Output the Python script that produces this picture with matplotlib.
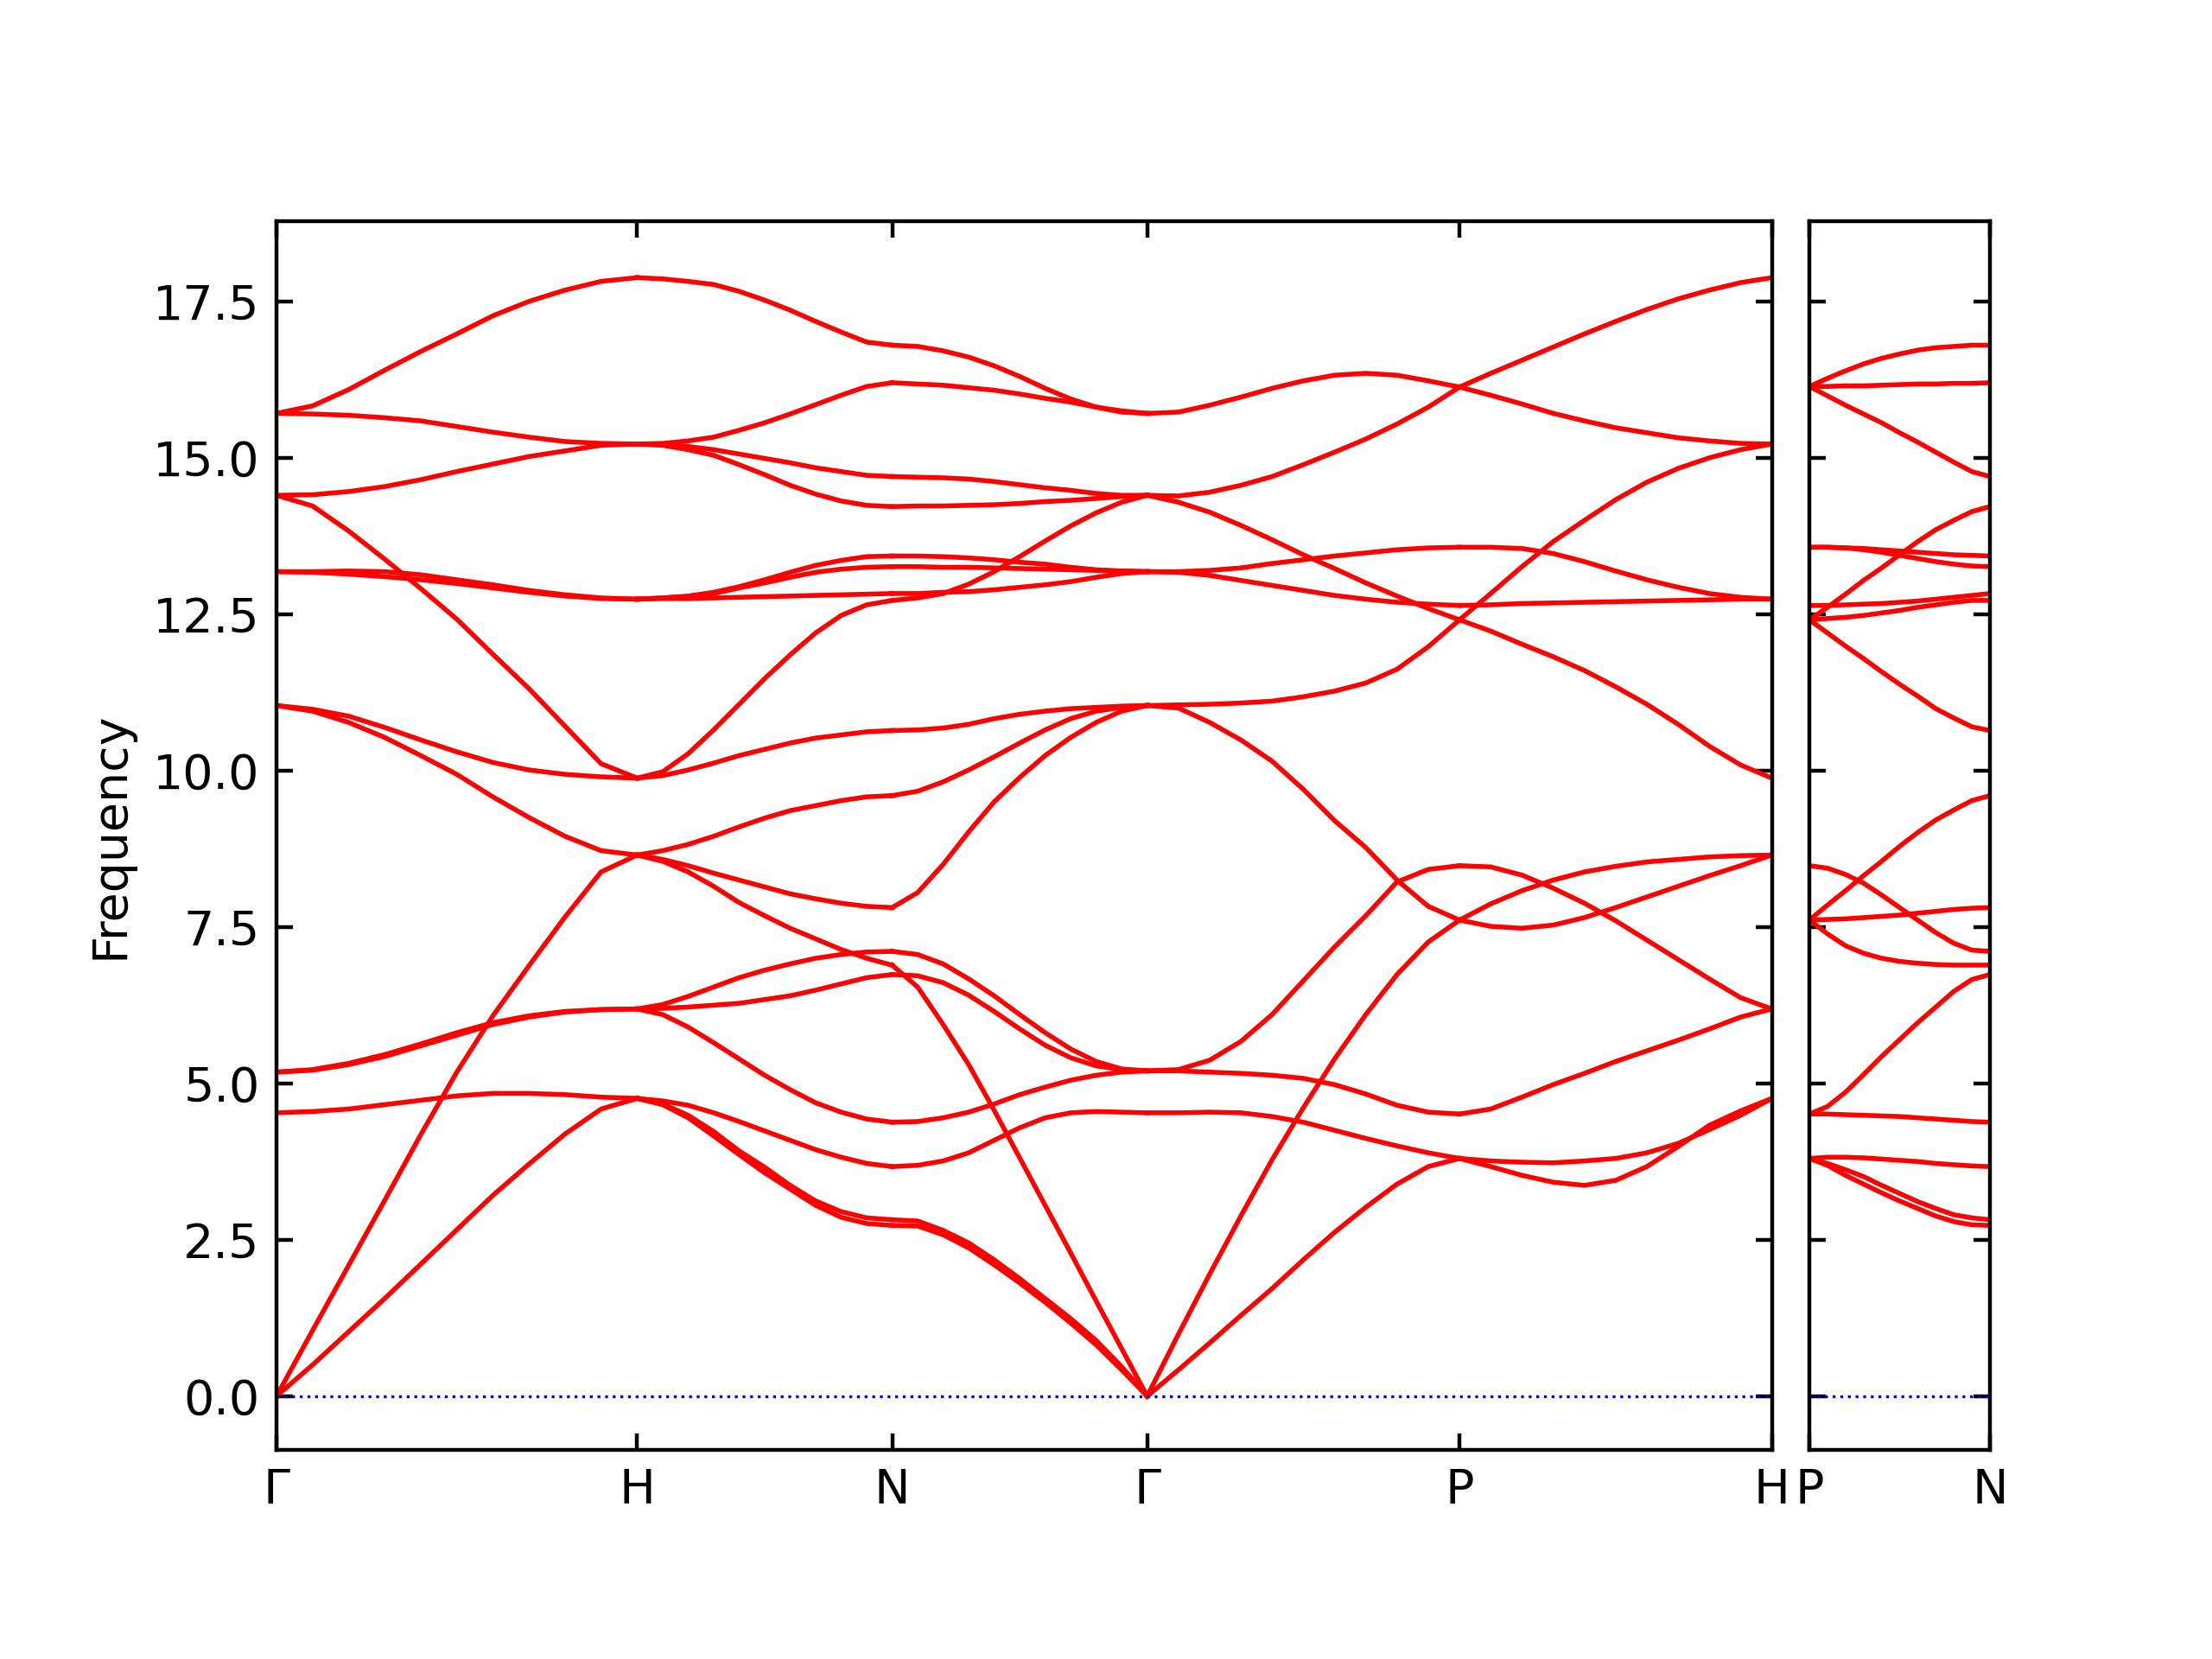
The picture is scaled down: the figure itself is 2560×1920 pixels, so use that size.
import numpy as np
import matplotlib
matplotlib.use("Agg")
import matplotlib.pyplot as plt

# bcc high-symmetry path, segment lengths in units of 2*pi/a
path_labels = ["Γ", "H", "N", "Γ", "P", "H"]
path_lengths = [1.0, 0.7071, 0.7071, 0.8660, 0.8660]
side_labels = ["P", "N"]
side_length = 0.5

# phonon frequencies, 11 evenly spaced q-points per segment
gamma_h = [
    [15.71, 15.83, 16.09, 16.40, 16.70, 16.98, 17.27, 17.50, 17.68, 17.82, 17.88],
    [15.71, 15.70, 15.68, 15.64, 15.59, 15.50, 15.41, 15.33, 15.26, 15.23, 15.22],
    [14.40, 14.41, 14.46, 14.54, 14.65, 14.78, 14.90, 15.02, 15.11, 15.20, 15.22],
    [14.40, 14.23, 13.83, 13.38, 12.91, 12.42, 11.86, 11.31, 10.71, 10.11, 9.88],
    [13.18, 13.18, 13.19, 13.18, 13.13, 13.05, 12.97, 12.88, 12.81, 12.76, 12.74],
    [13.18, 13.17, 13.14, 13.10, 13.05, 12.99, 12.92, 12.85, 12.79, 12.75, 12.74],
    [11.04, 10.98, 10.87, 10.69, 10.49, 10.30, 10.13, 10.01, 9.94, 9.90, 9.88],
    [11.04, 10.95, 10.77, 10.53, 10.24, 9.94, 9.58, 9.25, 8.95, 8.72, 8.65],
    [0.00, 1.05, 2.09, 3.13, 4.18, 5.18, 6.08, 6.88, 7.66, 8.38, 8.65],
    [0.00, 0.50, 1.03, 1.56, 2.11, 2.66, 3.21, 3.71, 4.19, 4.59, 4.76],
    [4.53, 4.55, 4.59, 4.66, 4.73, 4.80, 4.84, 4.84, 4.82, 4.78, 4.76],
    [5.18, 5.21, 5.30, 5.43, 5.60, 5.77, 5.94, 6.06, 6.14, 6.18, 6.19],
    [5.18, 5.22, 5.32, 5.46, 5.63, 5.81, 5.97, 6.08, 6.15, 6.18, 6.19],
]

h_n = [
    [17.88, 17.86, 17.82, 17.77, 17.66, 17.52, 17.36, 17.18, 17.01, 16.85, 16.80],
    [15.22, 15.23, 15.27, 15.33, 15.44, 15.56, 15.70, 15.85, 16.00, 16.14, 16.20],
    [15.22, 15.21, 15.18, 15.13, 15.06, 14.99, 14.92, 14.84, 14.78, 14.72, 14.70],
    [15.22, 15.20, 15.13, 15.04, 14.89, 14.73, 14.56, 14.42, 14.31, 14.24, 14.22],
    [12.74, 12.76, 12.79, 12.85, 12.94, 13.05, 13.17, 13.28, 13.36, 13.42, 13.43],
    [12.74, 12.76, 12.78, 12.83, 12.92, 13.00, 13.09, 13.17, 13.22, 13.25, 13.26],
    [12.74, 12.75, 12.75, 12.76, 12.77, 12.78, 12.79, 12.80, 12.81, 12.82, 12.83],
    [9.88, 9.98, 10.27, 10.65, 11.06, 11.47, 11.85, 12.20, 12.48, 12.65, 12.72],
    [9.88, 9.92, 10.01, 10.12, 10.24, 10.34, 10.44, 10.52, 10.57, 10.62, 10.64],
    [8.65, 8.72, 8.82, 8.95, 9.10, 9.24, 9.36, 9.44, 9.52, 9.58, 9.60],
    [8.65, 8.58, 8.48, 8.36, 8.25, 8.14, 8.03, 7.95, 7.88, 7.83, 7.81],
    [8.65, 8.55, 8.38, 8.15, 7.89, 7.68, 7.48, 7.31, 7.14, 7.00, 6.89],
    [6.19, 6.26, 6.39, 6.54, 6.69, 6.81, 6.91, 7.00, 7.06, 7.10, 7.11],
    [6.19, 6.20, 6.22, 6.25, 6.28, 6.34, 6.40, 6.49, 6.59, 6.69, 6.74],
    [6.19, 6.10, 5.90, 5.65, 5.39, 5.13, 4.90, 4.69, 4.54, 4.43, 4.38],
    [4.76, 4.72, 4.65, 4.53, 4.39, 4.24, 4.09, 3.94, 3.82, 3.72, 3.67],
    [4.76, 4.67, 4.49, 4.23, 3.92, 3.66, 3.37, 3.12, 2.95, 2.85, 2.82],
    [4.76, 4.66, 4.45, 4.16, 3.86, 3.57, 3.31, 3.05, 2.86, 2.76, 2.73],
]

n_gamma = [
    [16.80, 16.78, 16.71, 16.61, 16.47, 16.30, 16.11, 15.94, 15.81, 15.73, 15.71],
    [16.20, 16.18, 16.16, 16.12, 16.08, 16.02, 15.95, 15.89, 15.81, 15.75, 15.71],
    [14.70, 14.69, 14.68, 14.66, 14.62, 14.57, 14.52, 14.48, 14.43, 14.40, 14.40],
    [14.22, 14.23, 14.23, 14.24, 14.25, 14.27, 14.30, 14.32, 14.35, 14.38, 14.40],
    [12.72, 12.76, 12.83, 12.98, 13.18, 13.42, 13.67, 13.91, 14.12, 14.29, 14.40],
    [13.43, 13.43, 13.42, 13.40, 13.37, 13.33, 13.30, 13.25, 13.21, 13.19, 13.18],
    [13.26, 13.26, 13.25, 13.25, 13.24, 13.23, 13.22, 13.21, 13.20, 13.19, 13.18],
    [12.83, 12.83, 12.85, 12.86, 12.89, 12.93, 12.97, 13.02, 13.09, 13.15, 13.18],
    [10.64, 10.65, 10.68, 10.74, 10.83, 10.90, 10.95, 10.99, 11.01, 11.03, 11.04],
    [9.60, 9.67, 9.82, 10.01, 10.22, 10.44, 10.65, 10.83, 10.95, 11.01, 11.04],
    [7.81, 8.05, 8.50, 9.02, 9.50, 9.89, 10.24, 10.53, 10.77, 10.95, 11.04],
    [6.89, 6.54, 5.94, 5.30, 4.57, 3.81, 3.05, 2.29, 1.52, 0.76, 0.00],
    [7.11, 7.06, 6.91, 6.67, 6.40, 6.10, 5.81, 5.55, 5.35, 5.23, 5.20],
    [6.74, 6.72, 6.61, 6.41, 6.15, 5.87, 5.61, 5.41, 5.28, 5.22, 5.20],
    [4.38, 4.39, 4.45, 4.54, 4.67, 4.82, 4.94, 5.05, 5.13, 5.18, 5.20],
    [3.67, 3.69, 3.76, 3.89, 4.09, 4.29, 4.45, 4.53, 4.55, 4.54, 4.53],
    [2.82, 2.80, 2.65, 2.45, 2.18, 1.88, 1.56, 1.24, 0.89, 0.47, 0.00],
    [2.73, 2.72, 2.58, 2.37, 2.10, 1.81, 1.50, 1.17, 0.82, 0.42, 0.00],
]

gamma_p = [
    [15.71, 15.73, 15.84, 15.97, 16.11, 16.23, 16.32, 16.35, 16.32, 16.23, 16.13],
    [14.40, 14.39, 14.45, 14.56, 14.70, 14.89, 15.09, 15.30, 15.54, 15.81, 16.13],
    [14.40, 14.29, 14.13, 13.92, 13.69, 13.45, 13.23, 13.00, 12.79, 12.59, 12.41],
    [13.18, 13.18, 13.20, 13.24, 13.31, 13.37, 13.43, 13.48, 13.53, 13.56, 13.57],
    [13.18, 13.17, 13.12, 13.04, 12.96, 12.88, 12.80, 12.74, 12.69, 12.66, 12.64],
    [11.04, 11.05, 11.06, 11.08, 11.11, 11.18, 11.27, 11.40, 11.62, 11.98, 12.41],
    [11.04, 11.00, 10.77, 10.49, 10.15, 9.70, 9.20, 8.77, 8.25, 7.83, 7.61],
    [5.20, 5.22, 5.37, 5.67, 6.10, 6.64, 7.18, 7.68, 8.22, 8.42, 8.48],
    [5.20, 5.20, 5.18, 5.16, 5.13, 5.08, 4.98, 4.83, 4.65, 4.54, 4.51],
    [4.53, 4.53, 4.54, 4.53, 4.47, 4.38, 4.25, 4.12, 4.00, 3.89, 3.80],
    [0.00, 0.99, 1.95, 2.88, 3.78, 4.61, 5.39, 6.10, 6.74, 7.26, 7.61],
    [0.00, 0.42, 0.85, 1.29, 1.72, 2.18, 2.62, 3.02, 3.39, 3.67, 3.80],
]

p_h = [
    [16.13, 16.35, 16.56, 16.77, 16.98, 17.18, 17.37, 17.54, 17.68, 17.80, 17.88],
    [16.13, 16.00, 15.86, 15.71, 15.59, 15.48, 15.40, 15.32, 15.27, 15.23, 15.22],
    [12.41, 12.83, 13.26, 13.66, 14.00, 14.33, 14.61, 14.83, 15.00, 15.13, 15.22],
    [13.57, 13.57, 13.55, 13.47, 13.34, 13.19, 13.05, 12.93, 12.83, 12.77, 12.74],
    [12.64, 12.65, 12.67, 12.68, 12.69, 12.70, 12.71, 12.72, 12.73, 12.74, 12.74],
    [12.41, 12.23, 12.02, 11.82, 11.60, 11.34, 11.06, 10.74, 10.39, 10.09, 9.88],
    [8.48, 8.46, 8.33, 8.12, 7.88, 7.60, 7.29, 6.98, 6.67, 6.37, 6.19],
    [7.61, 7.87, 8.08, 8.25, 8.38, 8.47, 8.54, 8.58, 8.62, 8.64, 8.65],
    [7.61, 7.51, 7.48, 7.53, 7.65, 7.81, 7.98, 8.15, 8.32, 8.48, 8.65],
    [4.51, 4.59, 4.78, 4.98, 5.16, 5.35, 5.52, 5.69, 5.87, 6.06, 6.19],
    [3.80, 3.76, 3.74, 3.73, 3.76, 3.80, 3.89, 4.04, 4.26, 4.49, 4.76],
    [3.80, 3.67, 3.53, 3.42, 3.37, 3.45, 3.67, 3.99, 4.33, 4.56, 4.76],
]

p_n = [
    [16.14, 16.27, 16.39, 16.50, 16.59, 16.66, 16.72, 16.76, 16.78, 16.80, 16.80],
    [16.14, 16.14, 16.15, 16.15, 16.16, 16.17, 16.18, 16.18, 16.19, 16.19, 16.20],
    [16.14, 15.99, 15.84, 15.70, 15.56, 15.40, 15.25, 15.09, 14.93, 14.78, 14.70],
    [12.41, 12.61, 12.82, 13.04, 13.24, 13.45, 13.66, 13.85, 14.00, 14.14, 14.22],
    [13.57, 13.57, 13.56, 13.55, 13.53, 13.51, 13.49, 13.47, 13.45, 13.44, 13.43],
    [13.57, 13.57, 13.56, 13.53, 13.49, 13.44, 13.39, 13.34, 13.30, 13.27, 13.26],
    [12.64, 12.64, 12.65, 12.66, 12.67, 12.69, 12.71, 12.74, 12.77, 12.80, 12.83],
    [12.41, 12.43, 12.45, 12.48, 12.52, 12.56, 12.61, 12.65, 12.69, 12.72, 12.72],
    [12.41, 12.20, 11.99, 11.79, 11.58, 11.38, 11.19, 10.99, 10.84, 10.70, 10.64],
    [7.61, 7.85, 8.08, 8.32, 8.55, 8.79, 9.01, 9.21, 9.37, 9.52, 9.60],
    [8.48, 8.44, 8.34, 8.20, 8.01, 7.81, 7.61, 7.41, 7.24, 7.13, 7.11],
    [7.61, 7.62, 7.63, 7.65, 7.67, 7.69, 7.72, 7.75, 7.78, 7.80, 7.81],
    [7.61, 7.39, 7.20, 7.08, 7.00, 6.95, 6.92, 6.90, 6.89, 6.89, 6.89],
    [4.51, 4.63, 4.86, 5.14, 5.43, 5.70, 5.97, 6.22, 6.47, 6.66, 6.74],
    [4.51, 4.51, 4.50, 4.49, 4.48, 4.47, 4.45, 4.43, 4.41, 4.39, 4.38],
    [3.80, 3.82, 3.82, 3.81, 3.79, 3.77, 3.75, 3.72, 3.70, 3.68, 3.67],
    [3.80, 3.72, 3.62, 3.51, 3.37, 3.24, 3.11, 3.00, 2.90, 2.85, 2.82],
    [3.80, 3.69, 3.53, 3.39, 3.25, 3.12, 3.00, 2.88, 2.79, 2.74, 2.73],
]


def draw_segment(ax, x0, length, bands):
    q = np.linspace(x0, x0 + length, len(bands[0]))
    for b in bands:
        ax.plot(q, b, color="red", lw=1.0)


fig = plt.figure(figsize=(6.4, 4.8), dpi=400)
ax1 = fig.add_axes([0.125, 0.126, 0.676, 0.7406])
ax2 = fig.add_axes([0.818, 0.126, 0.0816, 0.7406])

ticks = np.concatenate([[0.0], np.cumsum(path_lengths)])
for x0, L, bands in zip(ticks[:-1], path_lengths, [gamma_h, h_n, n_gamma, gamma_p, p_h]):
    draw_segment(ax1, x0, L, bands)
draw_segment(ax2, 0.0, side_length, p_n)

for ax in (ax1, ax2):
    ax.axhline(0, color="blue", ls=":", lw=0.6)
    ax.set_ylim(-0.86, 18.78)
    ax.set_yticks(np.arange(0, 18, 2.5))
    ax.tick_params(direction="in", top=True, right=True)

ax1.set_xlim(0, ticks[-1])
ax1.set_xticks(ticks)
ax1.set_xticklabels(path_labels)
ax1.set_ylabel("Frequency")

ax2.set_xlim(0, side_length)
ax2.set_xticks([0, side_length])
ax2.set_xticklabels(side_labels)
ax2.set_yticklabels([])

fig.savefig("out.png")
